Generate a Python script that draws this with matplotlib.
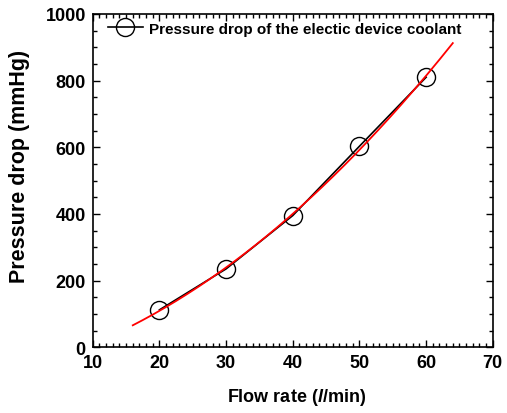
import numpy as np
import matplotlib.pyplot as plt
from matplotlib.ticker import MultipleLocator

# measured points
flow_rate = [20, 30, 40, 50, 60]
pressure_drop = [112, 235, 395, 603, 810]

# range of the fitted curve
fit_start = 16
fit_end = 64

plt.rcParams['font.family'] = ['Liberation Sans', 'DejaVu Sans']
plt.rcParams['font.weight'] = 'bold'
plt.rcParams['mathtext.fontset'] = 'custom'
plt.rcParams['mathtext.it'] = 'Liberation Sans:bold:italic'
plt.rcParams['mathtext.rm'] = 'Liberation Sans:bold'
plt.rcParams['mathtext.bf'] = 'Liberation Sans:bold'

fig = plt.figure(figsize=(5.07, 4.14), dpi=100)
ax = fig.add_axes([0.183, 0.159, 0.789, 0.805])

# quadratic fit through the measured points
coef = np.polyfit(flow_rate, pressure_drop, 2)
xf = np.linspace(fit_start, fit_end, 200)
yf = np.polyval(coef, xf)

ax.plot(flow_rate, pressure_drop, color='black', lw=1.2, marker='o', ms=13,
        mfc='none', mec='black', mew=1.0,
        label='Pressure drop of the electic device coolant')
ax.plot(xf, yf, color='red', lw=1.3)

ax.set_xlim(10, 70)
ax.set_ylim(0, 1000)
ax.xaxis.set_major_locator(MultipleLocator(10))
ax.xaxis.set_minor_locator(MultipleLocator(1))
ax.yaxis.set_major_locator(MultipleLocator(200))
ax.yaxis.set_minor_locator(MultipleLocator(50))
ax.tick_params(which='both', direction='in', top=True, right=True,
               labelsize=13, width=1.0)
ax.tick_params(which='major', length=5, pad=5)
ax.tick_params(which='minor', length=3)
for s in ax.spines.values():
    s.set_linewidth(1.2)

ax.set_xlabel('Flow rate ($\\mathit{l}$/min)', fontsize=13, fontweight='bold')
ax.xaxis.set_label_coords(0.51, -0.117)
ax.set_ylabel('Pressure drop (mmHg)', fontsize=15.5, fontweight='bold')
ax.yaxis.set_label_coords(-0.157, 0.544)

ax.legend(loc='upper left', frameon=False, fontsize=11, handlelength=2.3,
          handletextpad=0.4, borderaxespad=0.3, bbox_to_anchor=(0.011, 1.009))

fig.savefig('out.png', dpi=100)
